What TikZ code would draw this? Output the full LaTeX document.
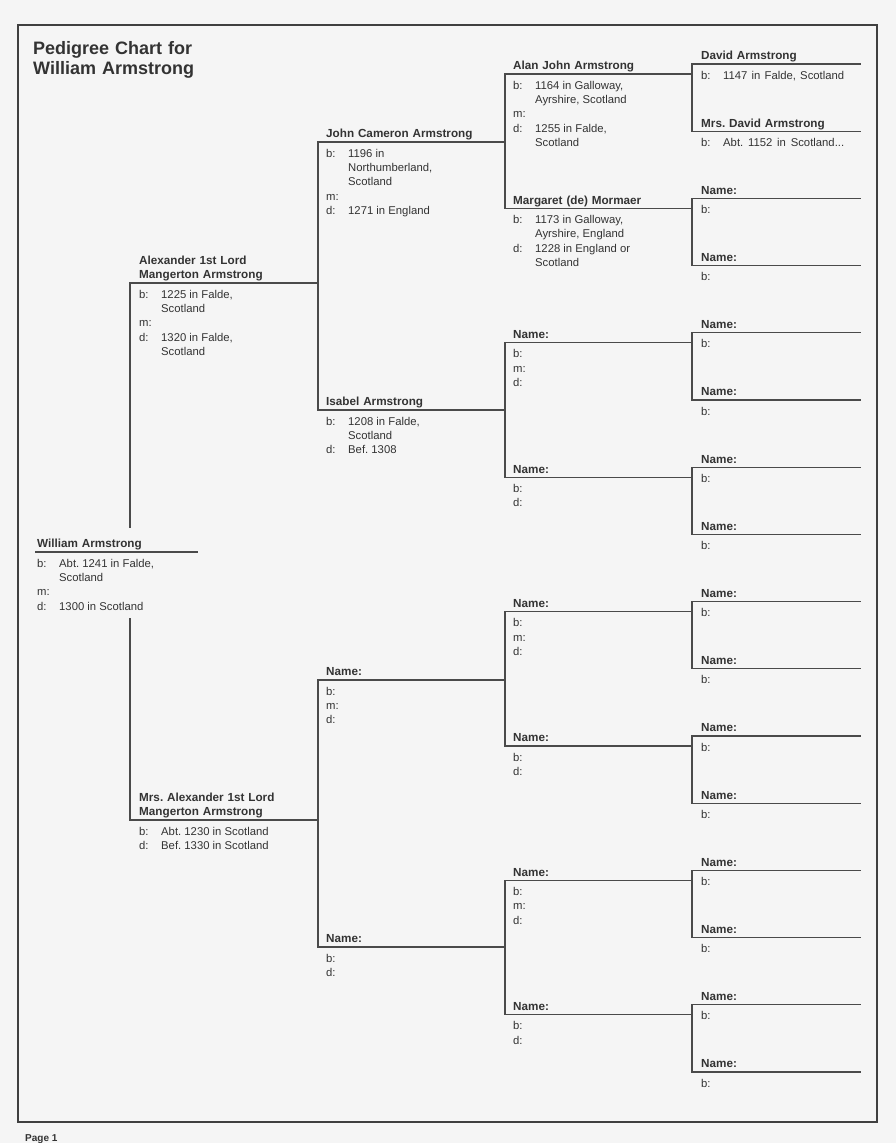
\documentclass[tikz,border=0pt]{standalone}
\usepackage{fontspec}
\setmainfont{Liberation Sans}
\usepackage{array}
\usepackage{tikz}
\usetikzlibrary{positioning,calc}
\definecolor{ink}{HTML}{333333}
\definecolor{rulegray}{HTML}{4A4A4A}
\definecolor{paper}{HTML}{F5F5F5}
\frenchspacing
\newcommand\facts[1]{\begin{tabular}[t]{@{}w{l}{22pt}@{}l@{}}#1\end{tabular}}
\tikzset{
  plate/.style  ={anchor=south west, inner ysep=0pt, text depth=4pt, align=left,
                  text=ink, font=\bfseries\fontsize{11.7}{14}\selectfont},
  gen1/.style   ={plate, inner xsep=1pt, text width=159pt},
  gen2/.style   ={plate, inner xsep=9pt, text width=170pt},
  gen3/.style   ={plate, inner xsep=8pt, text width=171pt},
  gen4/.style   ={plate, inner xsep=8pt, text width=171pt},
  gen5/.style   ={plate, inner xsep=9pt, text width=150pt},
  twoline/.style={text depth=18pt},
  info/.style   ={anchor=base west, inner sep=0pt, text=ink,
                  font=\fontsize{11.3}{14.4}\selectfont},
  title/.style  ={anchor=base west, inner sep=0pt, align=left, text width=300pt,
                  text=ink, font=\bfseries\fontsize{18}{20}\selectfont},
  ln/.style     ={draw=rulegray, line width=1.1pt, line cap=rect},
  frame/.style  ={draw=black!75, line width=2.8pt},
}
\begin{document}
\begin{tikzpicture}[x=1pt, y=-1pt]
  \fill[paper] (0,0) rectangle (896,1143);
  \useasboundingbox (0,0) rectangle (896,1143);
  \draw[frame] (18,25) rectangle (877,1122);

  % heading and footer
  \node[title] (title) at (33,54) {Pedigree Chart for\\William Armstrong};
  \node[anchor=base west, inner sep=0pt, text=ink, font=\bfseries\fontsize{10}{12}\selectfont]
       (page) at (25,1141) {Page 1};

  % generation 1
  \node[gen1] (william) at (36,552) {William Armstrong};
  \node[info] (williamfacts) at ([shift={(1,15)}]william.south west)
       {\facts{b: & Abt. 1241 in Falde,\\ & Scotland\\ m: &\\ d: & 1300 in Scotland}};

  % generation 2
  \node[gen2, twoline] (alexander) at (130,283) {Alexander 1st Lord\\Mangerton Armstrong};
  \node[info] at ([shift={(9,15)}]alexander.south west)
       {\facts{b: & 1225 in Falde,\\ & Scotland\\ m: &\\ d: & 1320 in Falde,\\ & Scotland}};
  \node[gen2, twoline] (mrsalex) at (130,820) {Mrs. Alexander 1st Lord\\Mangerton Armstrong};
  \node[info] at ([shift={(9,15)}]mrsalex.south west)
       {\facts{b: & Abt. 1230 in Scotland\\ d: & Bef. 1330 in Scotland}};

  % generation 3
  \node[gen3] (john) at (318,142) {John Cameron Armstrong};
  \node[info] at ([shift={(8,15)}]john.south west)
       {\facts{b: & 1196 in\\ & Northumberland,\\ & Scotland\\ m: &\\ d: & 1271 in England}};
  \node[gen3] (isabel) at (318,410) {Isabel Armstrong};
  \node[info] at ([shift={(8,15)}]isabel.south west)
       {\facts{b: & 1208 in Falde,\\ & Scotland\\ d: & Bef. 1308}};
  \node[gen3] (g3-2) at (318,680) {Name:};
  \node[info] at ([shift={(8,15)}]g3-2.south west) {\facts{b: &\\ m: &\\ d: &}};
  \node[gen3] (g3-3) at (318,947) {Name:};
  \node[info] at ([shift={(8,15)}]g3-3.south west) {\facts{b: &\\ d: &}};

  % generation 4
  \node[gen4] (alan) at (505,74) {Alan John Armstrong};
  \node[info] at ([shift={(8,15)}]alan.south west)
       {\facts{b: & 1164 in Galloway,\\ & Ayrshire, Scotland\\ m: &\\ d: & 1255 in Falde,\\ & Scotland}};
  \node[gen4] (margaret) at (505,208.4) {Margaret (de) Mormaer};
  \node[info] at ([shift={(8,15)}]margaret.south west)
       {\facts{b: & 1173 in Galloway,\\ & Ayrshire, England\\ d: & 1228 in England or\\ & Scotland}};
  \node[gen4] (g4-2) at (505,342.8) {Name:};
  \node[info] at ([shift={(8,15)}]g4-2.south west) {\facts{b: &\\ m: &\\ d: &}};
  \node[gen4] (g4-3) at (505,477.2) {Name:};
  \node[info] at ([shift={(8,15)}]g4-3.south west) {\facts{b: &\\ d: &}};
  \node[gen4] (g4-4) at (505,611.6) {Name:};
  \node[info] at ([shift={(8,15)}]g4-4.south west) {\facts{b: &\\ m: &\\ d: &}};
  \node[gen4] (g4-5) at (505,746) {Name:};
  \node[info] at ([shift={(8,15)}]g4-5.south west) {\facts{b: &\\ d: &}};
  \node[gen4] (g4-6) at (505,880.4) {Name:};
  \node[info] at ([shift={(8,15)}]g4-6.south west) {\facts{b: &\\ m: &\\ d: &}};
  \node[gen4] (g4-7) at (505,1014.8) {Name:};
  \node[info] at ([shift={(8,15)}]g4-7.south west) {\facts{b: &\\ d: &}};

  % generation 5
  \node[gen5] (david) at (692,64) {David Armstrong};
  \node[info] at ([shift={(9,15)}]david.south west)
       {\facts{b: & \makebox[121pt][s]{1147 in Falde, Scotland}}};
  \node[gen5] (mrsdavid) at (692,131.2) {Mrs. David Armstrong};
  \node[info] at ([shift={(9,15)}]mrsdavid.south west)
       {\facts{b: & \makebox[121pt][s]{Abt. 1152 in Scotland...}}};
  \foreach \k in {2,...,15} {
    \node[gen5] (g5-\k) at (692,{64+67.2*\k}) {Name:};
    \node[info] at ([shift={(9,15)}]g5-\k.south west) {\facts{b: &}};
  }

  % name lines
  \foreach \p in {william,alexander,mrsalex,john,isabel,g3-2,g3-3,alan,margaret,
                  g4-2,g4-3,g4-4,g4-5,g4-6,g4-7,david,mrsdavid}
    \draw[ln] (\p.south west) -- (\p.south east);
  \foreach \k in {2,...,15}
    \draw[ln] (g5-\k.south west) -- (g5-\k.south east);

  % parent brackets
  \foreach \f/\m in {david/mrsdavid,g5-2/g5-3,g5-4/g5-5,g5-6/g5-7,g5-8/g5-9,
                     g5-10/g5-11,g5-12/g5-13,g5-14/g5-15,alan/margaret,
                     g4-2/g4-3,g4-4/g4-5,g4-6/g4-7,john/isabel,g3-2/g3-3}
    \draw[ln] (\f.south west) -- (\m.south west);
  \draw[ln] (alexander.south west) -- ([yshift=12pt]william.north -| alexander.south west);
  \draw[ln] ($(williamfacts.south -| mrsalex.south west)+(0,4)$) -- (mrsalex.south west);
\end{tikzpicture}
\end{document}
